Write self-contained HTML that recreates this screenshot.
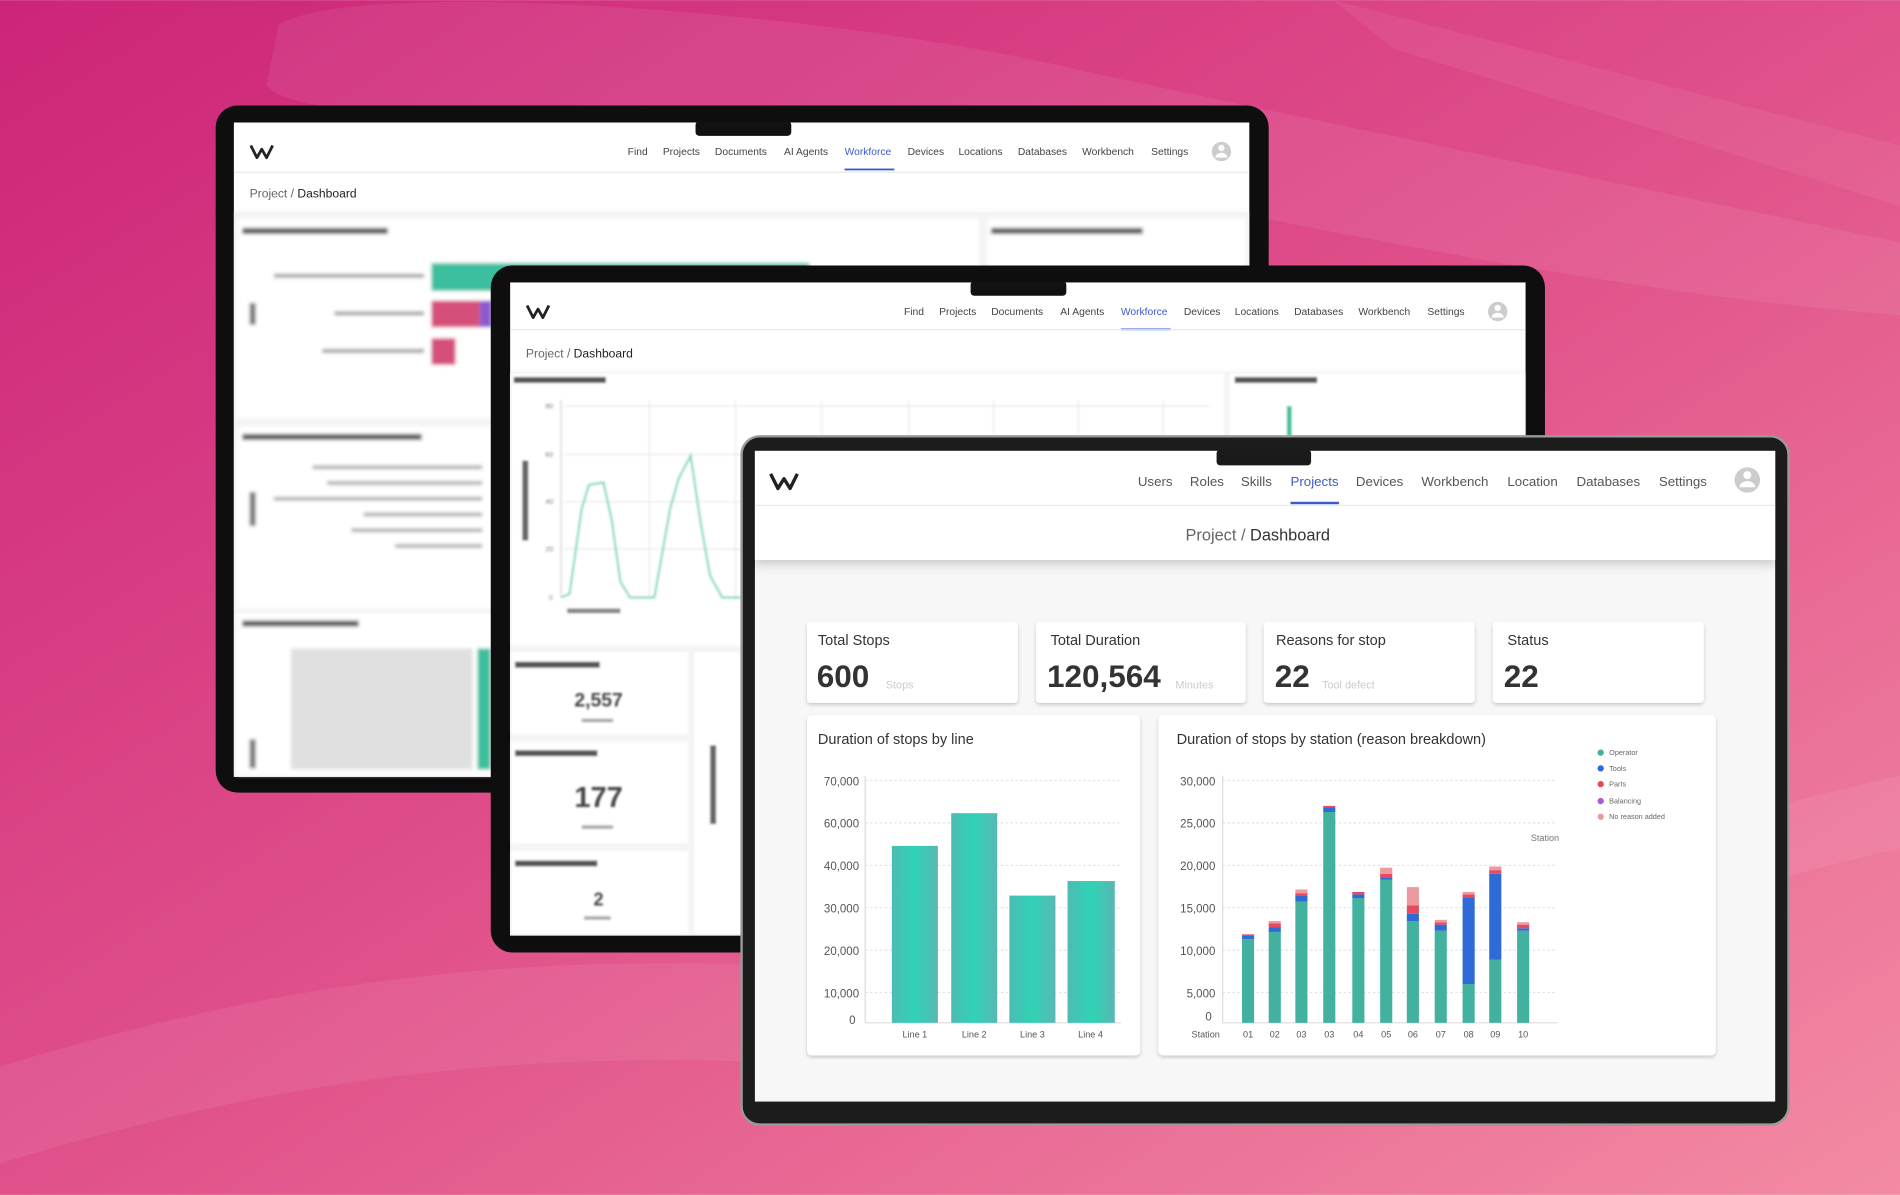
<!DOCTYPE html>
<html><head><meta charset="utf-8"><style>
html,body{margin:0;padding:0;width:1900px;height:1195px;overflow:hidden}
svg{display:block}
text{font-family:"Liberation Sans",sans-serif}
</style></head><body>
<svg width="1900" height="1195" viewBox="0 0 1568 986" xmlns="http://www.w3.org/2000/svg">
<defs>
<linearGradient id="bg" x1="0" y1="0" x2="1" y2="1">
<stop offset="0" stop-color="#cc2479"/><stop offset="0.5" stop-color="#e0508a"/><stop offset="1" stop-color="#f38ba3"/>
</linearGradient>
<linearGradient id="bar" x1="0" y1="0" x2="1" y2="0">
<stop offset="0" stop-color="#4cbcb2"/><stop offset="0.5" stop-color="#2fd3b6"/><stop offset="1" stop-color="#5ab7b4"/>
</linearGradient>
<filter id="sh" x="-10%" y="-10%" width="120%" height="130%"><feDropShadow dx="0" dy="1.5" stdDeviation="1.5" flood-color="#000" flood-opacity="0.2"/></filter>
<filter id="hsh" x="-5%" y="-50%" width="110%" height="200%"><feDropShadow dx="0" dy="4" stdDeviation="4" flood-color="#000" flood-opacity="0.18"/></filter>
<filter id="bl"><feGaussianBlur stdDeviation="1.6"/></filter>
<filter id="bl2"><feGaussianBlur stdDeviation="0.9"/></filter>
</defs>
<rect width="1568" height="986" fill="url(#bg)"/>
<path d="M230,20 C300,-20 700,10 900,60 L1568,200 L1568,260 C1300,240 1000,170 700,110 C500,80 250,110 220,70 Z" fill="#fff" opacity="0.07"/>
<path d="M0,880 C200,820 400,780 700,800 C1000,820 1300,700 1568,640 L1568,700 C1300,760 1000,900 700,880 C400,860 200,900 0,960 Z" fill="#fff" opacity="0.07"/>
<path d="M1100,0 L1568,120 L1568,170 L1150,40 Z" fill="#fff" opacity="0.06"/>

<!-- Laptop 1 -->
<rect x="178" y="87" width="869" height="567" rx="18" fill="#0e0e0e"/>
<rect x="193" y="101" width="838" height="540" fill="#fff"/>
<rect x="574" y="100" width="79" height="12" rx="3" fill="#111"/>
<path d="M207,120 L212,130 L216,123 L220,130 L225,120" fill="none" stroke="#222" stroke-width="2.3" stroke-linejoin="round"/>
<g font-size="8.5" fill="#444">
<text x="518" y="128">Find</text><text x="547" y="128">Projects</text><text x="590" y="128">Documents</text><text x="647" y="128">AI Agents</text><text x="697" y="128" fill="#3a5bd0">Workforce</text><text x="749" y="128">Devices</text><text x="791" y="128">Locations</text><text x="840" y="128">Databases</text><text x="893" y="128">Workbench</text><text x="950" y="128">Settings</text>
</g>
<rect x="697" y="139" width="41" height="1.5" fill="#3a5bd0"/>
<circle cx="1008" cy="125" r="8" fill="#ccc"/><circle cx="1008" cy="122" r="2.6" fill="#fff"/><path d="M1003,130 a5,4 0 0 1 10,0" fill="#fff"/>
<line x1="193" y1="142" x2="1031" y2="142" stroke="#e6e6e6"/>
<text x="206" y="163" font-size="10" fill="#666">Project  /  <tspan fill="#222">Dashboard</tspan></text>
<rect x="193" y="175" width="838" height="466" fill="#f4f4f4" filter="url(#hsh)"/>
<g filter="url(#bl)">
<rect x="196" y="180" width="612" height="165" fill="#fff"/><rect x="815" y="180" width="213" height="165" fill="#fff"/>
<rect x="196" y="352" width="612" height="150" fill="#fff"/><rect x="196" y="506" width="612" height="134" fill="#fff"/>
<rect x="200" y="188" width="120" height="5" fill="#555"/><rect x="818" y="188" width="125" height="5" fill="#555"/>
<rect x="356" y="217" width="312" height="23" fill="#3bbf9e"/><rect x="356" y="248" width="40" height="22" fill="#d6507a"/><rect x="396" y="248" width="10" height="22" fill="#8a5bd0"/><rect x="356" y="279" width="20" height="22" fill="#d6507a"/>
<rect x="226" y="226" width="124" height="3" fill="#999"/><rect x="276" y="257" width="74" height="3" fill="#999"/><rect x="266" y="288" width="84" height="3" fill="#999"/>
<rect x="200" y="358" width="148" height="5" fill="#555"/><rect x="200" y="512" width="96" height="5" fill="#555"/>
<rect x="258" y="384" width="140" height="3" fill="#aaa"/><rect x="270" y="397" width="128" height="3" fill="#aaa"/><rect x="226" y="410" width="172" height="3" fill="#aaa"/><rect x="300" y="423" width="98" height="3" fill="#aaa"/><rect x="290" y="436" width="108" height="3" fill="#aaa"/><rect x="326" y="449" width="72" height="3" fill="#aaa"/>
<rect x="206" y="406" width="5" height="28" fill="#777"/><rect x="206" y="250" width="5" height="18" fill="#777"/><rect x="206" y="610" width="5" height="24" fill="#777"/>
<rect x="240" y="535" width="150" height="100" fill="#ccc" opacity="0.6"/>
<rect x="394" y="535" width="11" height="100" fill="#3bbf9e"/>
</g>

<!-- Laptop 2 -->
<rect x="405" y="219" width="870" height="567" rx="18" fill="#0e0e0e"/>
<rect x="421" y="233" width="838" height="539" fill="#fff"/>
<rect x="801" y="232" width="79" height="12" rx="3" fill="#111"/>
<path d="M435,252 L440,262 L444,255 L448,262 L453,252" fill="none" stroke="#222" stroke-width="2.3" stroke-linejoin="round"/>
<g font-size="8.5" fill="#444">
<text x="746" y="260">Find</text><text x="775" y="260">Projects</text><text x="818" y="260">Documents</text><text x="875" y="260">AI Agents</text><text x="925" y="260" fill="#3a5bd0">Workforce</text><text x="977" y="260">Devices</text><text x="1019" y="260">Locations</text><text x="1068" y="260">Databases</text><text x="1121" y="260">Workbench</text><text x="1178" y="260">Settings</text>
</g>
<rect x="925" y="271" width="41" height="1.5" fill="#3a5bd0"/>
<circle cx="1236" cy="257" r="8" fill="#ccc"/><circle cx="1236" cy="254" r="2.6" fill="#fff"/><path d="M1231,262 a5,4 0 0 1 10,0" fill="#fff"/>
<line x1="421" y1="272" x2="1259" y2="272" stroke="#e6e6e6"/>
<text x="434" y="295" font-size="10" fill="#666">Project  /  <tspan fill="#222">Dashboard</tspan></text>
<rect x="421" y="307" width="838" height="465" fill="#f4f4f4" filter="url(#hsh)"/>
<g filter="url(#bl2)">
<rect x="422" y="308" width="588" height="225" fill="#fff"/><rect x="1015" y="308" width="243" height="225" fill="#fff"/>
<rect x="424" y="311" width="76" height="5" fill="#555"/><rect x="1019" y="311" width="68" height="5" fill="#555"/>
<g stroke="#e8e8e8"><line x1="465" y1="335" x2="1000" y2="335"/><line x1="465" y1="375" x2="1000" y2="375"/><line x1="465" y1="414" x2="1000" y2="414"/><line x1="465" y1="453" x2="1000" y2="453"/><line x1="536" y1="330" x2="536" y2="495"/><line x1="607" y1="330" x2="607" y2="495"/><line x1="678" y1="330" x2="678" y2="495"/><line x1="750" y1="330" x2="750" y2="495"/><line x1="820" y1="330" x2="820" y2="495"/><line x1="890" y1="330" x2="890" y2="495"/><line x1="960" y1="330" x2="960" y2="495"/></g>
<line x1="463" y1="330" x2="463" y2="493" stroke="#ccc"/>
<polyline points="463,493 470,490 480,420 486,400 498,398 505,430 512,480 520,493 540,493 553,420 560,395 570,376 578,430 586,475 596,493 610,493 1000,493" fill="none" stroke="#8edcc6" stroke-width="2"/>
<g font-size="6" fill="#666"><text x="450" y="337">80</text><text x="450" y="377">60</text><text x="450" y="416">40</text><text x="450" y="455">20</text><text x="453" y="495">0</text></g>
<rect x="431" y="380" width="5" height="66" fill="#666"/><rect x="468" y="502" width="44" height="4" fill="#888"/>
<rect x="1062" y="335" width="4" height="25" fill="#3bbf9e"/>
<rect x="422" y="538" width="146" height="68" fill="#fff"/><rect x="422" y="612" width="146" height="84" fill="#fff"/><rect x="422" y="702" width="146" height="68" fill="#fff"/><rect x="573" y="538" width="40" height="232" fill="#fff"/>
<rect x="425" y="546" width="70" height="5" fill="#555"/><rect x="425" y="619" width="68" height="5" fill="#555"/><rect x="425" y="710" width="68" height="5" fill="#555"/>
<rect x="480" y="593" width="26" height="3" fill="#aaa"/><rect x="480" y="681" width="26" height="3" fill="#aaa"/><rect x="482" y="756" width="22" height="3" fill="#aaa"/>
<rect x="586" y="615" width="5" height="65" fill="#666"/>
</g>
<g font-weight="bold" fill="#444" text-anchor="middle" filter="url(#bl2)">
<text x="494" y="583" font-size="16">2,557</text><text x="494" y="666" font-size="24">177</text><text x="494" y="747" font-size="15">2</text>
</g>

<!-- Laptop 3 (front) -->
<rect x="612" y="360" width="864" height="568" rx="15" fill="#1c1c1c" stroke="#9a9a9a" stroke-width="2"/>
<rect x="623" y="372" width="842" height="537" fill="#f7f7f7"/>
<rect x="623" y="372" width="842" height="90" fill="#fff" filter="url(#hsh)"/>
<rect x="1004" y="371" width="78" height="13" rx="3" fill="#1a1a1a"/>
<path d="M636,391 L642,403 L647,395 L652,403 L658,391" fill="none" stroke="#222" stroke-width="2.8" stroke-linejoin="round"/>
<g font-size="11" fill="#555">
<text x="939" y="401">Users</text><text x="982" y="401">Roles</text><text x="1024" y="401">Skills</text><text x="1065" y="401" fill="#3a5bd0">Projects</text><text x="1119" y="401">Devices</text><text x="1173" y="401">Workbench</text><text x="1244" y="401">Location</text><text x="1301" y="401">Databases</text><text x="1369" y="401">Settings</text>
</g>
<rect x="1065" y="414" width="40" height="2" fill="#3a5bd0"/>
<circle cx="1442" cy="396" r="10.5" fill="#ccc"/><circle cx="1442" cy="392" r="3.3" fill="#fff"/><path d="M1435.5,402 a6.5,5 0 0 1 13,0" fill="#fff"/>
<line x1="623" y1="417" x2="1465" y2="417" stroke="#eaeaea"/>
<text x="1038" y="446" font-size="13.5" fill="#666" text-anchor="middle">Project  /  <tspan fill="#333">Dashboard</tspan></text>

<!-- KPI cards -->
<g filter="url(#sh)" fill="#fff">
<rect x="666" y="513" width="174" height="67" rx="3"/><rect x="855" y="513" width="173" height="67" rx="3"/><rect x="1043" y="513" width="174" height="67" rx="3"/><rect x="1232" y="513" width="174" height="67" rx="3"/>
<rect x="666" y="590" width="275" height="281" rx="4"/><rect x="956" y="590" width="460" height="281" rx="4"/>
</g>
<g font-size="12" fill="#333">
<text x="675" y="532">Total Stops</text><text x="867" y="532">Total Duration</text><text x="1053" y="532">Reasons for stop</text><text x="1244" y="532">Status</text>
</g>
<g font-size="26" font-weight="bold" fill="#333">
<text x="674" y="567">600</text><text x="864" y="567">120,564</text><text x="1052" y="567">22</text><text x="1241" y="567">22</text>
</g>
<g font-size="9" fill="#ccc"><text x="731" y="568">Stops</text><text x="970" y="568">Minutes</text><text x="1091" y="568">Tool defect</text></g>

<!-- Chart 1 -->
<text x="675" y="614" font-size="12" fill="#333">Duration of stops by line</text>
<g stroke="#e2e2e2" stroke-dasharray="2,2"><line x1="714" y1="644" x2="925" y2="644"/><line x1="714" y1="679" x2="925" y2="679"/><line x1="714" y1="714" x2="925" y2="714"/><line x1="714" y1="749" x2="925" y2="749"/><line x1="714" y1="784" x2="925" y2="784"/><line x1="714" y1="819" x2="925" y2="819"/></g>
<g font-size="9.5" fill="#555" text-anchor="end"><text x="709" y="648">70,000</text><text x="709" y="683">60,000</text><text x="709" y="718">40,000</text><text x="709" y="753">30,000</text><text x="709" y="788">20,000</text><text x="709" y="823">10,000</text><text x="706" y="845">0</text></g>
<line x1="714" y1="640" x2="714" y2="844" stroke="#ddd"/><line x1="714" y1="844" x2="925" y2="844" stroke="#ddd"/>
<rect x="736" y="698" width="38" height="146" fill="url(#bar)"/><rect x="785" y="671" width="38" height="173" fill="url(#bar)"/><rect x="833" y="739" width="38" height="105" fill="url(#bar)"/><rect x="881" y="727" width="39" height="117" fill="url(#bar)"/>
<g font-size="7.5" fill="#555" text-anchor="middle"><text x="755" y="856">Line 1</text><text x="804" y="856">Line 2</text><text x="852" y="856">Line 3</text><text x="900" y="856">Line 4</text></g>

<!-- Chart 2 -->
<text x="971" y="614" font-size="12" fill="#333">Duration of stops by station (reason breakdown)</text>
<g stroke="#e2e2e2" stroke-dasharray="2,2"><line x1="1009" y1="644" x2="1285" y2="644"/><line x1="1009" y1="679" x2="1285" y2="679"/><line x1="1009" y1="714" x2="1285" y2="714"/><line x1="1009" y1="749" x2="1285" y2="749"/><line x1="1009" y1="784" x2="1285" y2="784"/><line x1="1009" y1="819" x2="1285" y2="819"/></g>
<g font-size="9.5" fill="#555" text-anchor="end"><text x="1003" y="648">30,000</text><text x="1003" y="683">25,000</text><text x="1003" y="718">20,000</text><text x="1003" y="753">15,000</text><text x="1003" y="788">10,000</text><text x="1003" y="823">5,000</text><text x="1000" y="842">0</text></g>
<line x1="1009" y1="640" x2="1009" y2="844" stroke="#ddd"/><line x1="1009" y1="844" x2="1285" y2="844" stroke="#ddd"/>
<text x="1275" y="694" font-size="7.5" fill="#777" text-anchor="middle">Station</text>
<g>
<!-- 01 --><rect x="1025" y="775" width="10" height="69" fill="#43b19f"/><rect x="1025" y="772" width="10" height="3" fill="#2f6bd6"/><rect x="1025" y="771" width="10" height="1" fill="#e54a5e"/>
<!-- 02 --><rect x="1047" y="769" width="10" height="75" fill="#43b19f"/><rect x="1047" y="765" width="10" height="4" fill="#2f6bd6"/><rect x="1047" y="762" width="10" height="3" fill="#e54a5e"/><rect x="1047" y="760" width="10" height="2" fill="#ec9a9f"/>
<!-- 03 --><rect x="1069" y="744" width="10" height="100" fill="#43b19f"/><rect x="1069" y="739" width="10" height="5" fill="#2f6bd6"/><rect x="1069" y="737" width="10" height="2" fill="#e54a5e"/><rect x="1069" y="734" width="10" height="3" fill="#ec9a9f"/>
<!-- 03b --><rect x="1092" y="670" width="10" height="174" fill="#43b19f"/><rect x="1092" y="666" width="10" height="4" fill="#2f6bd6"/><rect x="1092" y="665" width="10" height="1" fill="#e54a5e"/>
<!-- 04 --><rect x="1116" y="741" width="10" height="103" fill="#43b19f"/><rect x="1116" y="738" width="10" height="3" fill="#2f6bd6"/><rect x="1116" y="736" width="10" height="2" fill="#e54a5e"/>
<!-- 05 --><rect x="1139" y="726" width="10" height="118" fill="#43b19f"/><rect x="1139" y="724" width="10" height="2" fill="#2f6bd6"/><rect x="1139" y="721" width="10" height="3" fill="#e54a5e"/><rect x="1139" y="716" width="10" height="5" fill="#ec9a9f"/>
<!-- 06 --><rect x="1161" y="760" width="10" height="84" fill="#43b19f"/><rect x="1161" y="754" width="10" height="6" fill="#2f6bd6"/><rect x="1161" y="747" width="10" height="7" fill="#e54a5e"/><rect x="1161" y="732" width="10" height="15" fill="#ec9a9f"/>
<!-- 07 --><rect x="1184" y="768" width="10" height="76" fill="#43b19f"/><rect x="1184" y="763" width="10" height="5" fill="#2f6bd6"/><rect x="1184" y="761" width="10" height="2" fill="#e54a5e"/><rect x="1184" y="759" width="10" height="2" fill="#ec9a9f"/>
<!-- 08 --><rect x="1207" y="812" width="10" height="32" fill="#43b19f"/><rect x="1207" y="741" width="10" height="71" fill="#2f6bd6"/><rect x="1207" y="738" width="10" height="3" fill="#e54a5e"/><rect x="1207" y="736" width="10" height="2" fill="#ec9a9f"/>
<!-- 09 --><rect x="1229" y="792" width="10" height="52" fill="#43b19f"/><rect x="1229" y="721" width="10" height="71" fill="#2f6bd6"/><rect x="1229" y="718" width="10" height="3" fill="#e54a5e"/><rect x="1229" y="715" width="10" height="3" fill="#ec9a9f"/>
<!-- 10 --><rect x="1252" y="768" width="10" height="76" fill="#43b19f"/><rect x="1252" y="766" width="10" height="2" fill="#2f6bd6"/><rect x="1252" y="763" width="10" height="3" fill="#e54a5e"/><rect x="1252" y="761" width="10" height="2" fill="#ec9a9f"/>
</g>
<g font-size="7.5" fill="#555" text-anchor="middle"><text x="995" y="856">Station</text><text x="1030" y="856">01</text><text x="1052" y="856">02</text><text x="1074" y="856">03</text><text x="1097" y="856">03</text><text x="1121" y="856">04</text><text x="1144" y="856">05</text><text x="1166" y="856">06</text><text x="1189" y="856">07</text><text x="1212" y="856">08</text><text x="1234" y="856">09</text><text x="1257" y="856">10</text></g>
<g font-size="6" fill="#666">
<circle cx="1321" cy="621" r="2.6" fill="#43b19f"/><text x="1328" y="623">Operator</text>
<circle cx="1321" cy="634" r="2.6" fill="#2f6bd6"/><text x="1328" y="636">Tools</text>
<circle cx="1321" cy="647" r="2.6" fill="#e54a5e"/><text x="1328" y="649">Parts</text>
<circle cx="1321" cy="661" r="2.6" fill="#a75be0"/><text x="1328" y="663">Balancing</text>
<circle cx="1321" cy="674" r="2.6" fill="#ec9a9f"/><text x="1328" y="676">No reason added</text>
</g>
</svg>
</body></html>
